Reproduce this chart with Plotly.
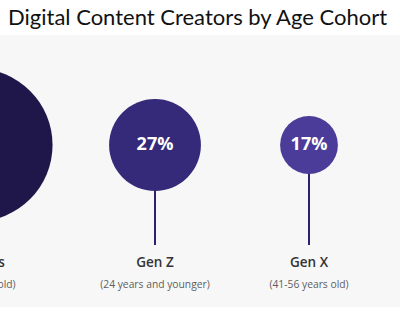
import plotly.graph_objects as go

# ---- data ----
cohorts = ["Millennials", "Gen Z", "Gen X"]
age_ranges = ["(25-40 years old)", "(24 years and younger)", "(41-56 years old)"]
share_pct = [45, 27, 17]
pct_labels = [f"{v}%" for v in share_pct]

# ---- style / layout constants ----
W, H = 400, 334
x_pos = [-0.162, 1, 2]            # horizontal slot of each cohort (bubble, stem, range)
x_name = [-0.205, 1, 2]           # horizontal slot of each cohort name
circle_colors = ["#1f1749", "#35297a", "#4a3c98"]
stem_color = "#2c2170"
px_per_pct = 3.4                  # marker diameter (px) per percentage point
ROW_CIRCLE, ROW_STEM_END, ROW_NAME, ROW_SUB = 145, 245, 264, 285
PANEL_TOP, PANEL_BOTTOM = 35, 307

fig = go.Figure()

# stems
for xi in x_pos:
    fig.add_trace(go.Scatter(x=[xi, xi], y=[ROW_CIRCLE, ROW_STEM_END], mode="lines",
                             line=dict(color=stem_color, width=2),
                             hoverinfo="skip", showlegend=False))

# bubbles
fig.add_trace(go.Scatter(
    x=x_pos, y=[ROW_CIRCLE] * len(x_pos), mode="markers+text",
    marker=dict(size=[v * px_per_pct for v in share_pct], color=circle_colors,
                line=dict(width=0), opacity=1),
    text=pct_labels, textposition="middle center",
    textfont=dict(family="Open Sans", size=18, color="white", weight=700),
    cliponaxis=True, showlegend=False, hoverinfo="skip"))

# cohort names
fig.add_trace(go.Scatter(
    x=x_name, y=[ROW_NAME] * len(x_name), mode="text", text=cohorts,
    textposition="middle center", cliponaxis=True,
    textfont=dict(family="Open Sans", size=13.5, color="#333333", weight=600),
    showlegend=False, hoverinfo="skip"))

# age ranges
fig.add_trace(go.Scatter(
    x=x_pos, y=[ROW_SUB] * len(x_pos), mode="text", text=age_ranges,
    textposition="middle center", cliponaxis=True,
    textfont=dict(family="Open Sans", size=10.3, color="#5e5e5e"),
    showlegend=False, hoverinfo="skip"))

fig.add_annotation(text="Digital Content Creators by Age Cohort",
                   x=0.494, y=1 - 16 / H, xref="paper", yref="paper",
                   xanchor="center", yanchor="middle", showarrow=False,
                   font=dict(family="Lato", size=22, color="#111111"))

fig.update_layout(
    width=W, height=H, margin=dict(l=0, r=0, t=0, b=0),
    paper_bgcolor="white", plot_bgcolor="#f7f7f7",
    xaxis=dict(range=[-0.00649, 2.5909], visible=False, domain=[0, 1]),
    yaxis=dict(range=[PANEL_BOTTOM, PANEL_TOP], visible=False,
               domain=[1 - PANEL_BOTTOM / H, 1 - PANEL_TOP / H]),
)

fig.write_html("out.html")
